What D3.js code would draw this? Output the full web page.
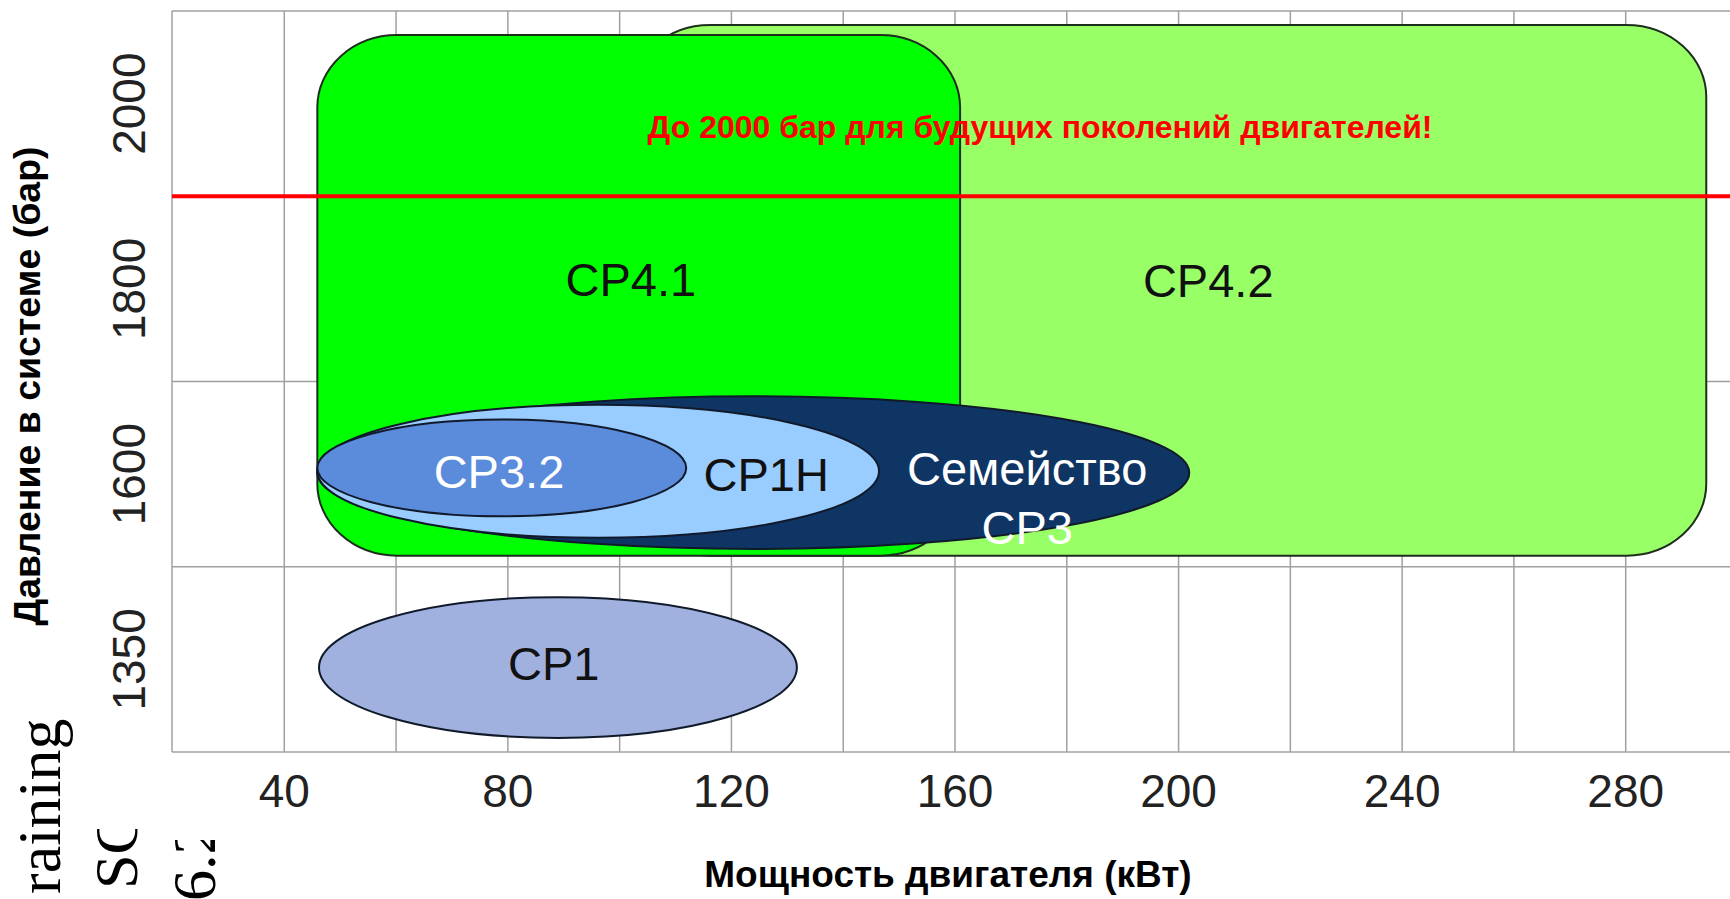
<!DOCTYPE html>
<html>
<head>
<meta charset="utf-8">
<script src="https://cdn.jsdelivr.net/npm/d3@7"></script>
<style>
  body { margin: 0; background: #fff; }
  svg { display: block; }
  text { font-family: "Liberation Sans", Arial, sans-serif; }
</style>
</head>
<body>
<div class="chart"></div>
<script>
// Chart data
var pressureLevels = ["2000", "1800", "1600", "1350"];
var powerTicks = [40, 80, 120, 160, 200, 240, 280];
var gridPower = [40, 60, 80, 100, 120, 140, 160, 180, 200, 220, 240, 260, 280, 300];

// pump families: power range (kW) and pressure range (bar)
var pumpNames = ["CP4.2", "CP4.1", "Семейство CP3", "CP1H", "CP3.2", "CP1"];
var pumpShape = ["rect", "rect", "ellipse", "ellipse", "ellipse", "ellipse"];
var powerMin = [102, 46, 46, 46, 46, 46.3];
var powerMax = [294.5, 161, 202, 146.5, 112, 131.8];
var pressureMin = [1490, 1490, 1499, 1514, 1543, 1244];
var pressureMax = [2085, 2074, 1684, 1675, 1659, 1434];
var labelPower = [205.4, 102.1, 173, 126.3, 78.5, 88.3];
var labelPressure = [1809, 1811, 1606, 1600, 1603, 1345];

var futureLimit = 1900;
var futureNote = "До 2000 бар для будущих поколений двигателей!";
var notePower = 175.3;
var notePressure = 1975;

var xTitle = "Мощность двигателя (кВт)";
var yTitle = "Давление в системе (бар)";

// styles
var pumpFill = ["#99ff66", "#00ff00", "#0f3565", "#99ccff", "#5b8bdb", "#a0b0df"];
var labelFill = ["#111", "#111", "#fff", "#111", "#fff", "#111"];

// Layout
var svgWidth = 1730;
var svgHeight = 899;
var plotLeft = 172, plotTop = 11, plotBottom = 752;

var svg = d3.select(".chart")
  .append("svg")
  .attr("width", svgWidth)
  .attr("height", svgHeight);

// Scales
var x = d3.scaleLinear().domain([20, 300]).range([plotLeft, 1737]);
var yBand = d3.scaleBand().domain(pressureLevels).range([plotTop, plotBottom]);
// piecewise scale so shapes can sit between the pressure rows
var yPress = d3.scaleLinear()
  .domain(pressureLevels.map(Number))
  .range(pressureLevels.map(function(d) { return yBand(d) + yBand.bandwidth() / 2; }));

// leftover slide text in the corner (partly cut off, as in the source)
var defs = svg.append("defs");
defs.append("clipPath").attr("id", "clipSC")
  .append("rect").attr("x", 80).attr("y", 829).attr("width", 80).attr("height", 80);
defs.append("clipPath").attr("id", "clip62")
  .append("rect").attr("x", 160).attr("y", 840).attr("width", 80).attr("height", 80);

var side = svg.append("g")
  .style("font-family", "'Liberation Serif', 'Times New Roman', serif")
  .attr("font-size", 62)
  .attr("fill", "#000");
side.append("text")
  .attr("transform", "translate(60,894) rotate(-90)")
  .style("font-family", "'Liberation Serif', serif")
  .text("raining");
side.append("g").attr("clip-path", "url(#clipSC)")
  .append("text")
  .attr("transform", "translate(137,889) rotate(-90)")
  .style("font-family", "'Liberation Serif', serif")
  .text("SC");
side.append("g").attr("clip-path", "url(#clip62)")
  .append("text")
  .attr("transform", "translate(215,901) rotate(-90)")
  .style("font-family", "'Liberation Serif', serif")
  .text("6.2");

// Grid
var grid = svg.append("g");
grid.append("g")
  .attr("transform", "translate(0," + plotBottom + ")")
  .call(d3.axisBottom(x).tickValues(gridPower).tickSize(-(plotBottom - plotTop)).tickFormat(""))
  .call(function(g) { g.select(".domain").remove(); })
  .selectAll("line").attr("stroke", "#a0a0a0").attr("stroke-width", 1.5);

var rowEdges = pressureLevels.map(function(d) { return yBand(d); }).concat([plotBottom]);
grid.selectAll(".hgrid")
  .data(rowEdges)
  .enter()
  .append("line")
  .attr("x1", plotLeft)
  .attr("x2", svgWidth)
  .attr("y1", function(d) { return d; })
  .attr("y2", function(d) { return d; })
  .attr("stroke", "#a0a0a0")
  .attr("stroke-width", 1.5);

grid.append("line")
  .attr("x1", plotLeft).attr("x2", plotLeft)
  .attr("y1", plotTop).attr("y2", plotBottom)
  .attr("stroke", "#a0a0a0").attr("stroke-width", 1.5);

// Pump areas
var shapes = svg.append("g");
pumpNames.forEach(function(name, i) {
  var x0 = x(powerMin[i]), x1 = x(powerMax[i]);
  var y0 = yPress(pressureMax[i]), y1 = yPress(pressureMin[i]);
  if (pumpShape[i] === "rect") {
    shapes.append("rect")
      .attr("x", x0).attr("y", y0)
      .attr("width", x1 - x0).attr("height", y1 - y0)
      .attr("rx", 80).attr("ry", 72)
      .attr("fill", pumpFill[i])
      .attr("stroke", "#1d2e1d")
      .attr("stroke-width", 2);
  } else {
    shapes.append("ellipse")
      .attr("cx", (x0 + x1) / 2).attr("cy", (y0 + y1) / 2)
      .attr("rx", (x1 - x0) / 2).attr("ry", (y1 - y0) / 2)
      .attr("fill", pumpFill[i])
      .attr("stroke", "#111a2a")
      .attr("stroke-width", 2);
  }
});

// Future pressure line
svg.append("line")
  .attr("x1", plotLeft).attr("x2", svgWidth)
  .attr("y1", yPress(futureLimit)).attr("y2", yPress(futureLimit))
  .attr("stroke", "#ff0000")
  .attr("stroke-width", 4);

svg.append("text")
  .attr("x", x(notePower))
  .attr("y", yPress(notePressure))
  .attr("dy", "0.36em")
  .attr("text-anchor", "middle")
  .attr("font-size", 32)
  .attr("font-weight", "bold")
  .attr("fill", "#ff0000")
  .text(futureNote);

// Pump labels
pumpNames.forEach(function(name, i) {
  var words = name.split(" ");
  var t = svg.append("text")
    .attr("x", x(labelPower[i]))
    .attr("y", yPress(labelPressure[i]))
    .attr("text-anchor", "middle")
    .attr("font-size", 47)
    .attr("fill", labelFill[i]);
  words.forEach(function(w, j) {
    t.append("tspan")
      .attr("x", x(labelPower[i]))
      .attr("dy", j === 0 ? "0.36em" : 59)
      .text(w);
  });
});

// Axes
var xAxis = svg.append("g")
  .attr("transform", "translate(0," + plotBottom + ")")
  .call(d3.axisBottom(x).tickValues(powerTicks).tickSize(0).tickPadding(22));
xAxis.select(".domain").remove();
xAxis.selectAll("text")
  .attr("font-size", 46)
  .attr("font-family", "Liberation Sans, Arial, sans-serif")
  .attr("fill", "#222");

var yAxis = svg.append("g")
  .attr("transform", "translate(" + plotLeft + ",0)")
  .call(d3.axisLeft(yBand).tickSize(0));
yAxis.select(".domain").remove();
yAxis.selectAll("text")
  .attr("x", 0)
  .attr("dy", 0)
  .attr("transform", "translate(-27,0) rotate(-90)")
  .attr("text-anchor", "middle")
  .attr("font-size", 46)
  .attr("font-family", "Liberation Sans, Arial, sans-serif")
  .attr("fill", "#222");

// Axis titles
svg.append("text")
  .attr("x", 948)
  .attr("y", 887)
  .attr("text-anchor", "middle")
  .attr("font-size", 37)
  .attr("font-weight", "bold")
  .attr("fill", "#000")
  .text(xTitle);

svg.append("text")
  .attr("transform", "translate(40,386) rotate(-90)")
  .attr("text-anchor", "middle")
  .attr("font-size", 37.5)
  .attr("font-weight", "bold")
  .attr("fill", "#000")
  .text(yTitle);
</script>
</body>
</html>
